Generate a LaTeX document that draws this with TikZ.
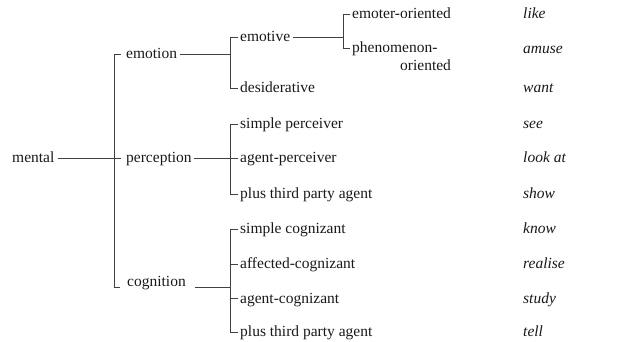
\documentclass[tikz,border=0pt]{standalone}
\usepackage{fontspec}
\setmainfont{Liberation Serif}
\begin{document}
\begin{tikzpicture}[x=1pt,y=-1pt,
  lbl/.style={font=\fontsize{15.5}{18}\selectfont, text=black!90, inner xsep=2pt, inner ysep=1pt, anchor=base west},
  ex/.style={lbl, font=\fontsize{15.5}{18}\selectfont\itshape},
  ln/.style={draw=black!75, line width=0.75pt}]
\useasboundingbox (0,0) rectangle (622,342);
% level 0/1
\node[lbl] (mental) at (10,163) {mental};
\node[lbl] (emotion) at (124,59) {emotion};
\node[lbl] (perception) at (124,163) {perception};
\node[lbl] (cognition) at (125,287) {cognition};
% level 2
\node[lbl] (emotive) at (238,42) {emotive};
\node[lbl] (desid) at (238,93) {desiderative};
\node[lbl] (sperc) at (238,129) {simple perceiver};
\node[lbl] (aperc) at (238,163) {agent-perceiver};
\node[lbl] (ptpa1) at (238,199) {plus third party agent};
\node[lbl] (scog) at (238,234) {simple cognizant};
\node[lbl] (afcog) at (238,269) {affected-cognizant};
\node[lbl] (agcog) at (238,304) {agent-cognizant};
\node[lbl] (ptpa2) at (238,337) {plus third party agent};
% level 3
\node[lbl] (emoter) at (350,19) {emoter-oriented};
\node[lbl] (phen) at (350,53) {phenomenon-};
\node[lbl] (phen2) at (398,71) {oriented};
% examples
\node[ex] (like) at (521,19) {like};
\node[ex] (amuse) at (521,54) {amuse};
\node[ex] (want) at (521,93) {want};
\node[ex] (see) at (521,129) {see};
\node[ex] (lookat) at (521,163) {look at};
\node[ex] (show) at (521,199) {show};
\node[ex] (know) at (521,234) {know};
\node[ex] (realise) at (521,269) {realise};
\node[ex] (study) at (521,304) {study};
\node[ex] (tell) at (521,337) {tell};
% junction coordinates
\coordinate (mrow) at (114,158);
\coordinate (t1) at (114,54);
\coordinate (t2) at (114,287);
\coordinate (cogL) at (120,287);
\coordinate (cogR) at (195,287);
\coordinate (e1) at (230,37);
\coordinate (e2) at (230,88);
\coordinate (eJ) at (230,54);
\coordinate (p1) at (230,124);
\coordinate (p2) at (230,194);
\coordinate (pJ) at (230,158);
\coordinate (c1) at (230,229);
\coordinate (c2) at (230,332);
\coordinate (c3) at (230,264);
\coordinate (c4) at (230,298);
\coordinate (cJ) at (230,287);
\coordinate (m1) at (343,14);
\coordinate (m2) at (343,48);
\coordinate (mJ) at (343,37);
% connectors
\draw[ln] ([xshift=1pt]mental.east |- mrow) -- ([xshift=-3pt]perception.west |- mrow);
\draw[ln] ([xshift=-3pt]emotion.west |- t1) -- (t1) -- (t2) -- (cogL);
\draw[ln] ([xshift=1pt]emotion.east |- eJ) -- (eJ);
\draw[ln] (emotive.west |- e1) -- (e1) -- (e2) -- (desid.west |- e2);
\draw[ln] ([xshift=1pt]emotive.east |- mJ) -- (mJ);
\draw[ln] (emoter.west |- m1) -- (m1) -- (m2) -- (phen.west |- m2);
\draw[ln] (perception.east |- pJ) -- (aperc.west |- pJ);
\draw[ln] (sperc.west |- p1) -- (p1) -- (p2) -- (ptpa1.west |- p2);
\draw[ln] (cogR) -- (cJ);
\draw[ln] (scog.west |- c1) -- (c1) -- (c2) -- (ptpa2.west |- c2);
\draw[ln] (c3) -- (afcog.west |- c3);
\draw[ln] (c4) -- (agcog.west |- c4);
\end{tikzpicture}
\end{document}
